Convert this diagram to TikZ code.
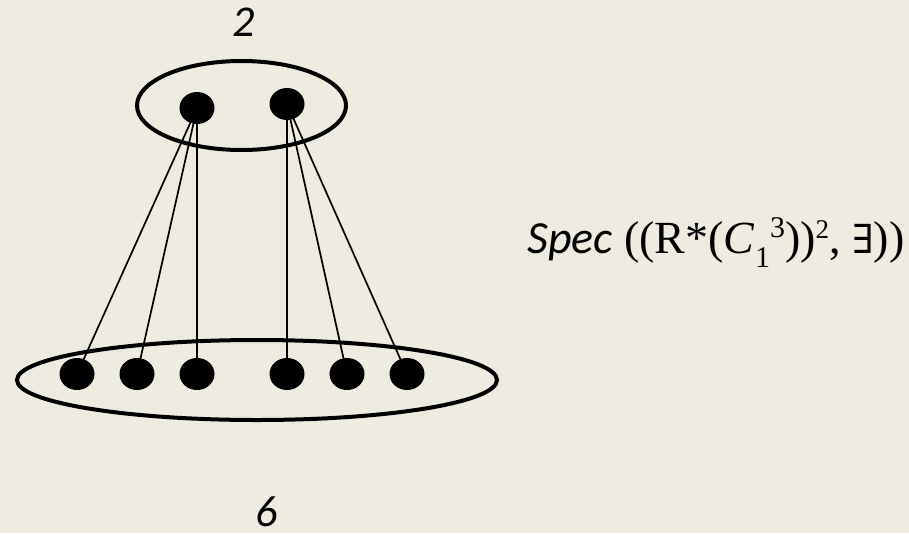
\documentclass[tikz,border=0pt]{standalone}
\usepackage{fontspec}
\setmainfont{Liberation Serif}
\newfontfamily\carlito{Carlito}
\newfontfamily\dvserif{DejaVu Serif}
\usetikzlibrary{shapes.geometric}
\definecolor{bg}{HTML}{EEEBE0}
\tikzset{
  dot/.style={ellipse,fill=black,draw=none,minimum width=35pt,minimum height=32pt,inner sep=0pt},
  group/.style={ellipse,draw=black,line width=4pt,inner sep=0pt},
  edge/.style={draw=black,line width=1.7pt},
  numlabel/.style={font=\carlito\itshape\fontsize{44}{50}\selectfont,inner sep=0pt}
}
\begin{document}
\begin{tikzpicture}[x=1pt,y=-1pt]
\fill[bg] (0,0) rectangle (909,533);
\useasboundingbox (0,0) rectangle (909,533);
% groups
\node[group,minimum width=209pt,minimum height=89pt] (top) at (241.5,105.5) {};
\node[group,minimum width=480pt,minimum height=80pt] (bot) at (257,380) {};
% dots
\node[dot] (t1) at (197,108) {};
\node[dot] (t2) at (287,104) {};
\node[dot] (b1) at (77,374) {};
\node[dot] (b2) at (137,374) {};
\node[dot] (b3) at (197,374) {};
\node[dot] (b4) at (287,374) {};
\node[dot] (b5) at (347,374) {};
\node[dot] (b6) at (407,374) {};
% edges
\draw[edge] (t1.center) -- (b1.center);
\draw[edge] (t1.center) -- (b2.center);
\draw[edge] (t1.center) -- (b3.center);
\draw[edge] (t2.center) -- (b4.center);
\draw[edge] (t2.center) -- (b5.center);
\draw[edge] (t2.center) -- (b6.center);
% labels
\node[numlabel,anchor=base] (l2) at (244,36) {2};
\node[numlabel,anchor=base] (l6) at (267,526) {6};
\node[anchor=base west,inner sep=0pt,font=\fontsize{46}{52}\selectfont] (spec) at (527,253)
 {{\carlito\itshape Spec} ((R*(\textit{C}{\fontsize{30}{32}\selectfont\raisebox{-14pt}{1}\raisebox{16pt}{3}}))\raisebox{15pt}{\fontsize{27}{28}\selectfont 2}, {\dvserif\fontsize{40}{44}\selectfont ∃}))};
\end{tikzpicture}
\end{document}
